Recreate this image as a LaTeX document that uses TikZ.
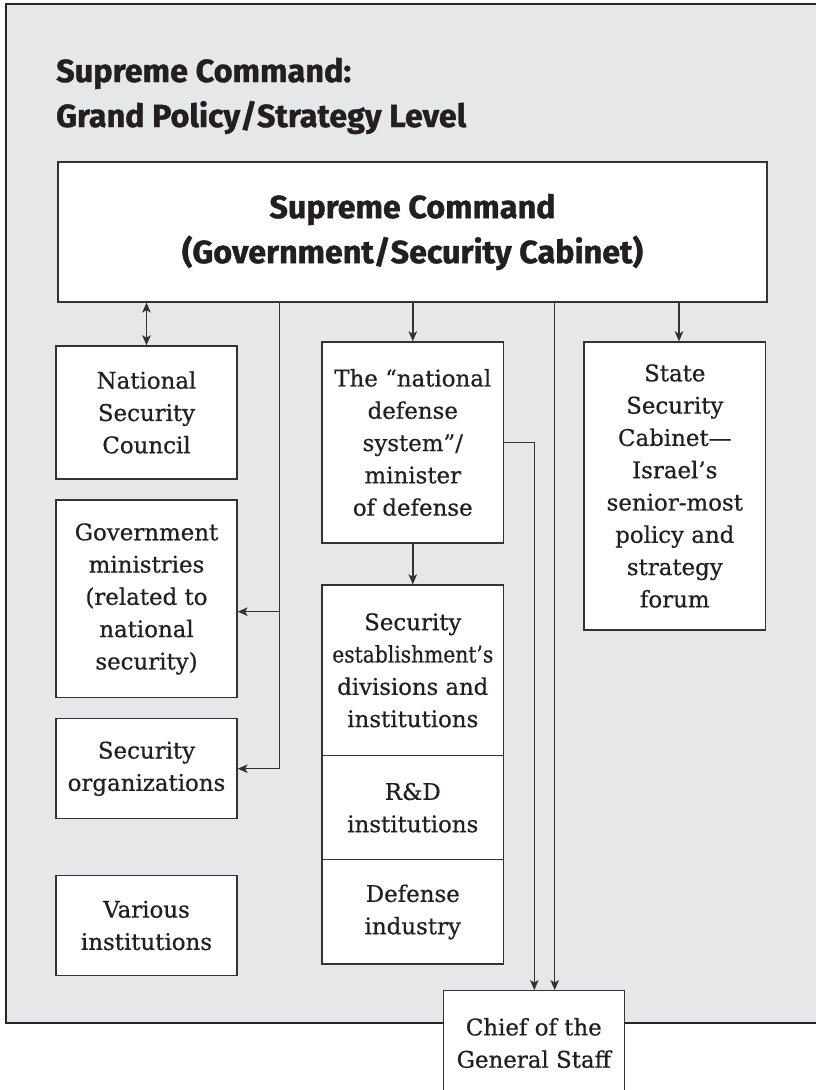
\documentclass[tikz,border=0pt]{standalone}
\usepackage{fontspec}
\usepackage{graphicx}
\usetikzlibrary{arrows.meta}
\setmainfont{DejaVu Serif}[FakeBold=0.6]
\newfontfamily\titlefont{Fira Sans}[BoldFeatures={FakeBold=1.2}]
\definecolor{bg}{HTML}{E6E7E8}
\definecolor{ink}{HTML}{231F20}
\definecolor{edge}{HTML}{333333}
\definecolor{frame}{HTML}{262626}
\newcommand\tfont{\titlefont\bfseries\fontsize{32}{45}\selectfont}
\newcommand\bfont{\fontsize{22.9}{32.3}\selectfont}
\tikzset{
  box/.style={draw=edge, line width=1.3pt, fill=white, inner sep=0pt, align=center, font=\bfont, text=ink, minimum width=181pt},
  conn/.style={draw=edge, line width=1.4pt},
  tip/.tip={Stealth[length=10pt,width=8.5pt,inset=2.5pt]},
  arr/.style={conn, -tip},
  arrboth/.style={conn, tip-tip},
  ttl/.style={inner sep=0pt, text=ink, anchor=base west, font=\tfont},
}
\begin{document}
\begin{tikzpicture}[x=1pt,y=-1pt]
\useasboundingbox (0,0) rectangle (816,1090);
% outer frame
\fill[bg] (6,4) rectangle (818,1023);
\draw[frame, line width=2.6pt] (820,4) -- (6,4) -- (6,1023) -- (820,1023);
% titles
\node[ttl] (t1) at (56,82) {\resizebox{295pt}{\height}{Supreme Command:}};
\node[ttl] (t2) at (56,127) {\resizebox{410pt}{\height}{Grand Policy/Strategy Level}};
% supreme command
\node[box, font=\tfont, minimum width=709pt, minimum height=140pt] (supreme) at (412.5,232)
  {\resizebox{286pt}{\height}{Supreme Command}\\\resizebox{461pt}{\height}{(Government/Security Cabinet)}};
% left column
\node[box, minimum height=133pt] (nsc) at (146.5,412.4) {National\\Security\\Council};
\node[box, minimum height=197.7pt] (gov) at (146.5,598.9) {Government\\ministries\\(related to\\national\\security)};
\node[box, minimum height=100pt] (secorg) at (146.5,768.7) {Security\\organizations};
\node[box, minimum height=99.6pt] (various) at (146.5,925.5) {Various\\institutions};
% middle column
\node[box, minimum width=181.7pt, minimum height=201pt] (defense) at (412.8,442.5)
  {The “national\\defense\\system”/\\minister\\of defense};
\node[box, minimum width=181.7pt, minimum height=170.7pt] (secest) at (412.8,670.3)
  {Security\\\resizebox{161pt}{\height}{establishment’s}\\\resizebox{151pt}{\height}{divisions and}\\institutions};
\node[box, minimum width=181.7pt, minimum height=104pt] (rnd) at (412.8,807.7) {R\&D\\institutions};
\node[box, minimum width=181.7pt, minimum height=104.3pt] (industry) at (412.8,911.9) {Defense\\industry};
% right column
\node[box, minimum width=181.7pt, minimum height=288pt] (state) at (674.8,486)
  {State\\Security\\Cabinet—\\Israel’s\\senior-most\\policy and\\strategy\\forum};
% chief
\node[box, minimum height=104.6pt] (chief) at (533.8,1043) {Chief of the\\General Staff};
% helper coordinates
\coordinate (vx) at (279.3,0);
\coordinate (g1) at (279.3,611.7);
\coordinate (cx1) at (534.3,0);
\coordinate (cx2) at (554.7,0);
\coordinate (sx) at (679,0);
% connectors
\draw[arrboth] (supreme.south -| nsc.north) -- (nsc.north);
\draw[arr] (supreme.south -| vx) -- (vx |- secorg.east) -- (secorg.east);
\draw[arr] (g1) -- (g1 -| gov.east);
\draw[arr] (supreme.south -| defense.north) -- (defense.north);
\draw[arr] (defense.south) -- (secest.north);
\draw[arr] (defense.east) -- (defense.east -| cx1) -- (cx1 |- chief.north);
\draw[arr] (supreme.south -| cx2) -- (cx2 |- chief.north);
\draw[arr] (supreme.south -| sx) -- (sx |- state.north);
\end{tikzpicture}
\end{document}
